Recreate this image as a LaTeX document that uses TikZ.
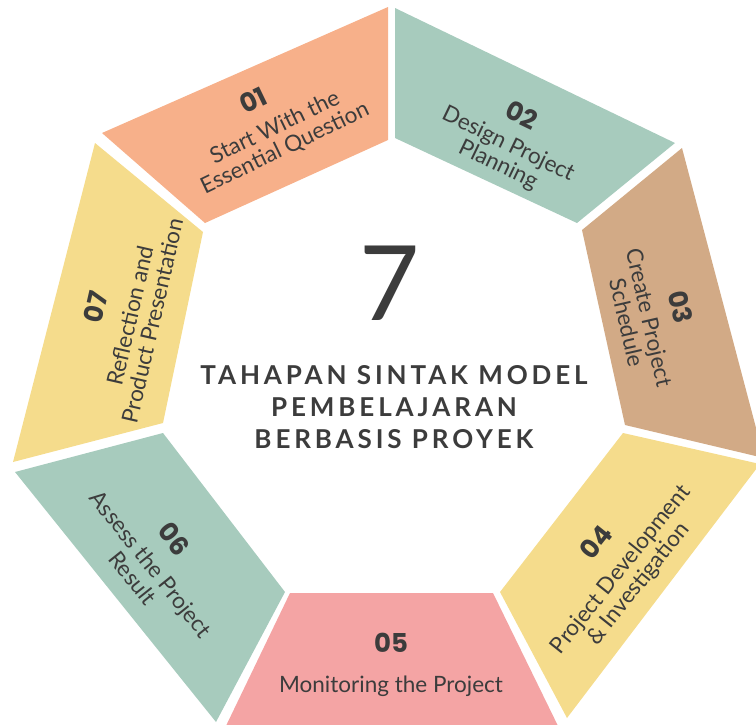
\documentclass[tikz,border=0pt]{standalone}
\usepackage{fontspec}
\setmainfont{Lato}
\newfontfamily\numfamily{Poppins}
\usepackage{tikz}

\definecolor{segorange}{RGB}{247,176,138}
\definecolor{segteal}{RGB}{167,203,189}
\definecolor{segtan}{RGB}{210,170,134}
\definecolor{segyellow}{RGB}{245,220,140}
\definecolor{segpink}{RGB}{244,164,164}
\definecolor{ink}{RGB}{60,60,60}

\tikzset{
  num/.style={font=\numfamily\bfseries\fontsize{26}{26}\selectfont, text=ink},
  lbl/.style={align=center, font=\fontsize{22.5}{23}\selectfont, text=ink},
}

\begin{document}
\begin{tikzpicture}[x=1pt,y=1pt,yscale=-1,xscale=1]
			\useasboundingbox (0,0) rectangle (756,724);
			\clip (0,0) rectangle (756,724);

			% the seven segments of the ring
			\fill[segorange] (102,133) -- (388,7) -- (388,140) -- (205,223) -- cycle;
			\fill[segteal] (395,8) -- (675,143) -- (577,223) -- (395,138) -- cycle;
			\fill[segtan] (682,148) -- (764,458) -- (625,425) -- (582,230) -- cycle;
			\fill[segyellow] (623,433) -- (760,464) -- (567,718) -- (500,592) -- cycle;
			\fill[segpink] (290,593) -- (493,593) -- (560,730) -- (224,730) -- cycle;
			\fill[segteal] (15,472) -- (163,433) -- (285,592) -- (216,722) -- cycle;
			\fill[segyellow] (95,143) -- (203,232) -- (163,423) -- (13,462) -- cycle;

			\node (n1) at (253,100) [num, rotate=25.7] {01};
			\node (l1) at (280,138) [lbl, rotate=25.7] {Start With the\\Essential Question};
			\node (n2) at (522,115) [num, rotate=-25.7] {02};
			\node (l2) at (503,155) [lbl, rotate=-25.7] {Design Project\\Planning};
			\node (n3) at (681,307) [num, rotate=-77.1] {03};
			\node (l3) at (638,320) [lbl, rotate=-77.1] {Create Project\\Schedule};
			\node (n4) at (596,542) [num, rotate=51.4] {04};
			\node (l4) at (630,577) [lbl, rotate=51.4] {Project Development\\\& Investigation};
			\node (n5) at (391,643) [num] {05};
			\node (l5) at (391,686) [lbl] {Monitoring the Project};
			\node (n6) at (174,539) [num, rotate=-51.4] {06};
			\node (l6) at (142,571) [lbl, rotate=-51.4] {Assess the Project\\Result};
			\node (n7) at (96,307) [num, rotate=77.1] {07};
			\node (l7) at (141,318) [lbl, rotate=77.1] {Reflection and\\Product Presentation};

			% centre
			\node (seven) at (390,283) [text=ink, font=\fontsize{104}{104}\selectfont] {7};
			\node (ttl) at (394,407) [align=center, text=ink, font=\bfseries\fontsize{26}{32}\selectfont\addfontfeatures{LetterSpace=15}] {TAHAPAN SINTAK MODEL\\PEMBELAJARAN\\BERBASIS PROYEK};
\end{tikzpicture}
\end{document}
